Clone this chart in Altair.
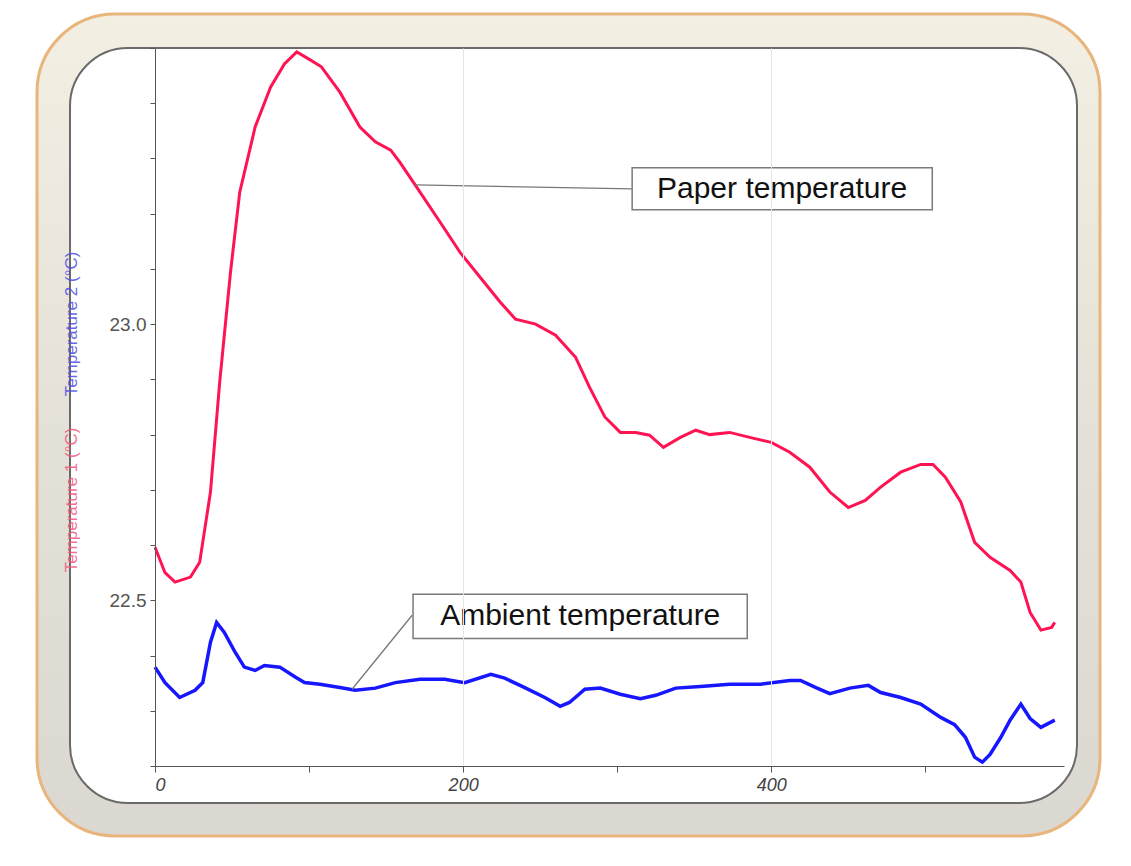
import altair as alt
import pandas as pd

# ---- data ----
paper_t = [0, 6.5, 13, 23, 29, 36, 42, 49, 55, 65, 75, 84, 92, 101, 108, 120, 133, 143, 153, 159,
           172, 185, 198, 211, 224, 234, 247, 260, 273, 282, 292, 302, 312, 321, 330, 341, 351,
           360, 373, 386, 400, 412, 425, 438, 450, 461, 471, 484, 497, 505, 513, 523, 532, 542,
           555, 562, 568, 575, 582, 584]
paper_v = [22.596, 22.55, 22.533, 22.542, 22.569, 22.696, 22.895, 23.094, 23.239, 23.357, 23.429,
           23.471, 23.493, 23.478, 23.466, 23.42, 23.357, 23.33, 23.315, 23.293, 23.239, 23.185,
           23.13, 23.085, 23.04, 23.009, 23.0, 22.98, 22.94, 22.886, 22.832, 22.804, 22.804,
           22.799, 22.777, 22.795, 22.808, 22.80, 22.804, 22.795, 22.786, 22.768, 22.741, 22.696,
           22.668, 22.681, 22.705, 22.732, 22.746, 22.746, 22.723, 22.678, 22.605, 22.578,
           22.554, 22.533, 22.478, 22.446, 22.451, 22.46]

ambient_t = [0, 6.5, 16, 26, 31, 36, 40, 45, 52, 58, 65, 71, 81, 91, 97, 107, 120, 130, 143, 156,
             172, 188, 201, 218, 227, 240, 253, 263, 269, 279, 289, 302, 315, 325, 338, 354, 373,
             393, 412, 419, 429, 438, 451, 463, 471, 484, 497, 510, 519, 526, 532, 537, 542, 549,
             555, 562, 568, 575, 584]
ambient_v = [22.379, 22.351, 22.324, 22.337, 22.351, 22.424, 22.46, 22.442, 22.406, 22.379, 22.373,
             22.382, 22.379, 22.361, 22.351, 22.348, 22.342, 22.337, 22.341, 22.351, 22.357,
             22.357, 22.351, 22.366, 22.359, 22.342, 22.324, 22.308, 22.315, 22.339, 22.341,
             22.33, 22.322, 22.328, 22.341, 22.344, 22.348, 22.348, 22.355, 22.355, 22.342,
             22.331, 22.341, 22.346, 22.333, 22.324, 22.312, 22.288, 22.275, 22.252, 22.216,
             22.207, 22.221, 22.252, 22.283, 22.312, 22.286, 22.27, 22.283]

x_ticks = [0, 100, 200, 300, 400, 500]
y_ticks = [22.2, 22.3, 22.4, 22.5, 22.6, 22.7, 22.8, 22.9, 23.0, 23.1, 23.2, 23.3, 23.4, 23.5]

label_texts = ["Paper temperature", "Ambient temperature"]
label_x = [407, 276]
label_y = [23.245, 22.471]
box_x0 = [309.7, 167.5]
box_x1 = [504.5, 384.4]
box_y0 = [23.207, 22.431]
box_y1 = [23.283, 22.511]
leader_x0 = [168.8, 127.9]
leader_y0 = [23.252, 22.339]
leader_x1 = [309.7, 166.9]
leader_y1 = [23.245, 22.473]

axis_titles = ["Temperature 1 (°C)", "Temperature 2 (°C)"]

# ---- chart ----
W, H = 909, 718
xscale = alt.Scale(domain=[0, 590], nice=False, zero=False)
yscale = alt.Scale(domain=[22.2, 23.5], nice=False, zero=False)

one = pd.DataFrame({"a": [0]})

outer = alt.Chart(one).mark_rect(
    cornerRadius=78,
    fill=alt.Gradient(gradient="linear",
                      stops=[alt.GradientStop(color="#f3efe3", offset=0),
                             alt.GradientStop(color="#e4e1d8", offset=0.5),
                             alt.GradientStop(color="#dad8d0", offset=1)],
                      x1=0, x2=0, y1=0, y2=1),
    stroke="#e8b57c", strokeWidth=3,
).encode(x=alt.value(-118), x2=alt.value(945), y=alt.value(-34), y2=alt.value(788))

inner = alt.Chart(one).mark_rect(
    cornerRadius=58, fill="white", stroke="#6a6a6a", strokeWidth=2,
).encode(x=alt.value(-85), x2=alt.value(922), y=alt.value(0), y2=alt.value(755))

titles_df = pd.DataFrame({"txt": axis_titles, "col": ["#f0587e", "#5050e0"],
                          "py": [452, 276]})
ytitles = alt.Chart(titles_df).mark_text(
    angle=270, fontSize=17, font="Liberation Sans", align="center", baseline="middle",
    opacity=0.85,
).encode(x=alt.value(-83), y=alt.Y("py:Q", scale=None), text="txt:N",
         color=alt.Color("col:N", scale=None))

paper_df = pd.DataFrame({"t": paper_t, "temp": paper_v})
amb_df = pd.DataFrame({"t": ambient_t, "temp": ambient_v})

xaxis = alt.Axis(values=x_ticks, labelExpr="datum.value % 200 == 0 ? datum.label : ''",
                 title="", grid=True, gridColor="#e6e6e6",
                 gridOpacity=alt.condition("datum.value % 200 == 0", alt.value(1), alt.value(0)),
                 domainColor="#555", tickColor="#555", tickSize=6, labelFontSize=18,
                 labelFontStyle="italic", labelColor="#444", labelFont="Liberation Sans",
                 labelPadding=4, zindex=1)
yaxis = alt.Axis(values=y_ticks, format=".1f",
                 labelExpr="datum.label == '23.0' || datum.label == '22.5' ? datum.label : ''",
                 title="", grid=False, domainColor="#555", tickColor="#555", tickSize=5,
                 labelFontSize=19, labelColor="#555", labelFont="Liberation Sans",
                 labelPadding=4, zindex=1)

paper = alt.Chart(paper_df).mark_line(color="#ff1453", strokeWidth=3).encode(
    x=alt.X("t:Q", scale=xscale, axis=xaxis),
    y=alt.Y("temp:Q", scale=yscale, axis=yaxis),
)
ambient = alt.Chart(amb_df).mark_line(color="#1616ff", strokeWidth=3.5).encode(
    x=alt.X("t:Q", scale=xscale),
    y=alt.Y("temp:Q", scale=yscale),
)

lead_df = pd.DataFrame({"x0": leader_x0, "y0": leader_y0, "x1": leader_x1, "y1": leader_y1})
leaders = alt.Chart(lead_df).mark_rule(color="#777", strokeWidth=1.3).encode(
    x=alt.X("x0:Q", scale=xscale), y=alt.Y("y0:Q", scale=yscale),
    x2="x1:Q", y2="y1:Q",
)

box_df = pd.DataFrame({"x0": box_x0, "x1": box_x1, "y0": box_y0, "y1": box_y1,
                       "lx": label_x, "ly": label_y, "txt": label_texts})
boxes = alt.Chart(box_df).mark_rect(fill="white", stroke="#7a7a7a", strokeWidth=1.5).encode(
    x=alt.X("x0:Q", scale=xscale), x2="x1:Q",
    y=alt.Y("y0:Q", scale=yscale), y2="y1:Q",
)
texts = alt.Chart(box_df).mark_text(fontSize=30, font="Liberation Sans", color="#111",
                                    align="center", baseline="middle").encode(
    x=alt.X("lx:Q", scale=xscale), y=alt.Y("ly:Q", scale=yscale), text="txt:N",
)

chart = alt.layer(outer, inner, ytitles, paper, ambient, leaders, boxes, texts).properties(
    width=W, height=H,
    autosize=alt.AutoSizeParams(type="none"),
    padding={"left": 155, "top": 48, "right": 67, "bottom": 100},
    background="white",
).configure_view(stroke=None, clip=False)

chart.save("out.html", embed_options={"renderer": "svg", "actions": False})
